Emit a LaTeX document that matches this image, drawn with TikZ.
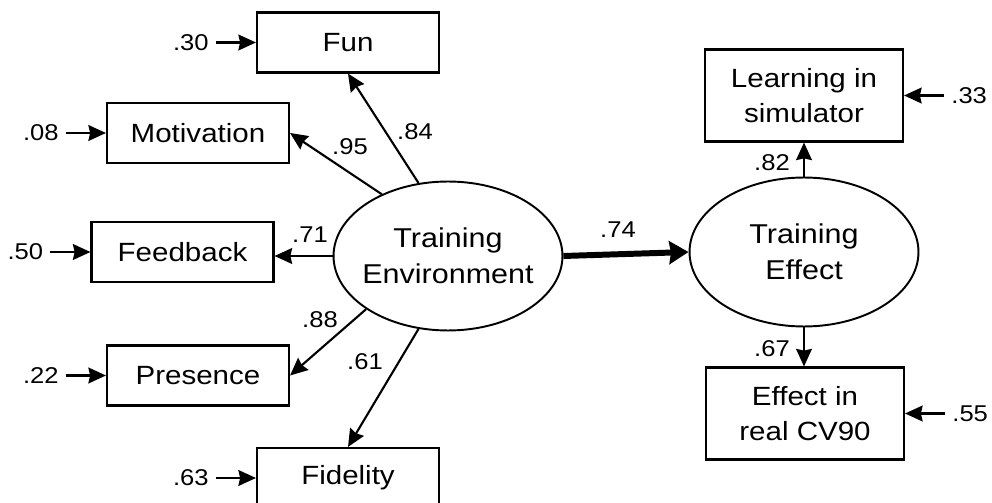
\documentclass[tikz,border=0pt]{standalone}
\usepackage{fontspec}
\setmainfont[FakeStretch=1.12]{Liberation Sans}
\usetikzlibrary{shapes.geometric, arrows.meta, positioning}

\begin{document}
\begin{tikzpicture}[
    x=0.02cm, y=-0.02cm,
    node distance=0.8cm,
    indicator/.style={rectangle, draw, line width=1.2pt, minimum width=3.64cm, minimum height=1.2cm, text centered, font=\fontsize{15}{20}\selectfont},
    outcome/.style={indicator, minimum width=3.96cm, minimum height=1.84cm, align=center},
    latent/.style={ellipse, draw, line width=1.1pt, minimum width=4.58cm, minimum height=2.98cm, inner sep=0pt, align=center, font=\fontsize{15.5}{20.5}\selectfont},
    error/.style={inner sep=4pt, font=\fontsize{13}{16}\selectfont},
    coef/.style={inner sep=1pt, font=\fontsize{13}{16}\selectfont},
    arrow/.style={-{Stealth[length=10pt, width=9pt, inset=1pt]}, line width=1.2pt},
    bigarrow/.style={-{Stealth[length=11pt, width=13pt, inset=1pt]}, line width=3.4pt}
]
\useasboundingbox (0,0) rectangle (992,503);

% Latent variables
\node[latent] (env) at (448,256) {\makebox[0pt]{Training}\\\makebox[0pt]{Environment}};
\node[latent] (eff) at (804,252) {\makebox[0pt]{Training}\\\makebox[0pt]{Effect}};

% Indicators of the training environment
\node[indicator] (fun) at (348,42.5) {Fun};
\node[indicator] (motivation) at (198,133) {Motivation};
\node[indicator] (feedback) at (182.5,252) {Feedback};
\node[indicator] (presence) at (198,375.5) {Presence};
\node[indicator] (fidelity) at (348,478) {Fidelity};

% Indicators of the training effect
\node[outcome] (learning) at (804,95.5) {Learning in\\simulator};
\node[outcome] (real) at (805,413.5) {Effect in\\real CV90};

% Error terms
\node[error, left=of fun] (efun) {.30};
\node[error, left=of motivation] (emotivation) {.08};
\node[error, left=of feedback] (efeedback) {.50};
\node[error, left=of presence] (epresence) {.22};
\node[error, left=of fidelity] (efidelity) {.63};
\node[error, right=of learning] (elearning) {.33};
\node[error, right=of real] (ereal) {.55};

\draw[arrow] (efun) -- (fun);
\draw[arrow] (emotivation) -- (motivation);
\draw[arrow] (efeedback) -- (feedback);
\draw[arrow] (epresence) -- (presence);
\draw[arrow] (efidelity) -- (fidelity);
\draw[arrow] (elearning) -- (learning);
\draw[arrow] (ereal) -- (real);

% Loadings
\draw[arrow] (env.112) -- (fun.south);
\draw[arrow] (env.137) -- (motivation.east);
\draw[arrow] (env.west) -- (env.west -| feedback.east);
\draw[arrow] (env.213) -- (presence.east);
\draw[arrow] (env.248) -- (fidelity.north);
\draw[bigarrow] (env.east) -- (eff.west);
\draw[arrow] (eff.north) -- (learning.south);
\draw[arrow] (eff.south) -- (eff.south |- real.north);

% Coefficients
\node[coef] (c84) at (415,132) {.84};
\node[coef] (c95) at (350,147) {.95};
\node[coef] (c71) at (310,235) {.71};
\node[coef] (c88) at (320,320) {.88};
\node[coef] (c61) at (365,362) {.61};
\node[coef] (c74) at (618,230) {.74};
\node[coef] (c82) at (772,163) {.82};
\node[coef] (c67) at (772,349) {.67};

\end{tikzpicture}
\end{document}
